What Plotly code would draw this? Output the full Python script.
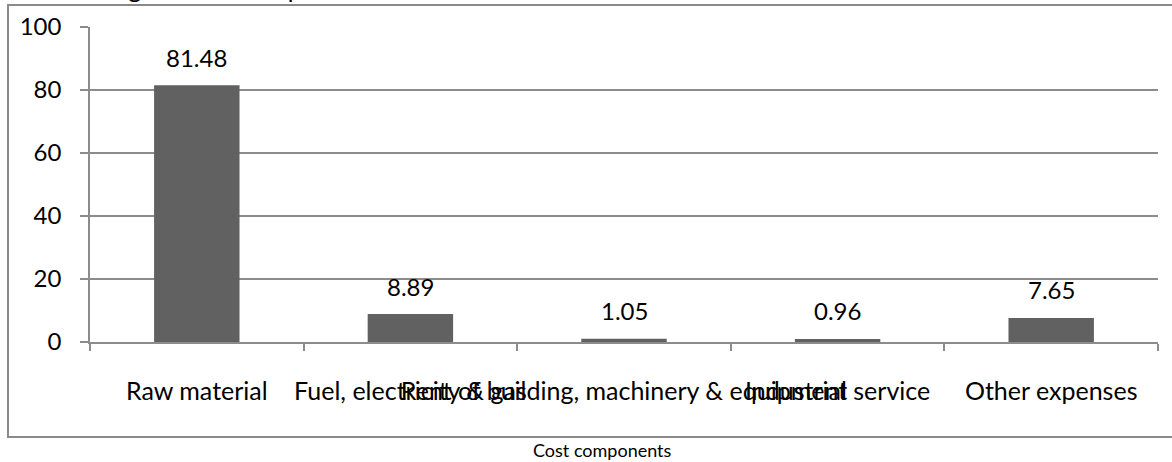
import plotly.graph_objects as go

categories = ["Raw material", "Fuel, electricity & gas", "Rent of building, machinery & equipment",
              "Industrial service", "Other expenses"]
values = [81.48, 8.89, 1.05, 0.96, 7.65]
y_ticks = [0, 20, 40, 60, 80, 100]

W, H = 1172, 462
L, R, T, B = 90, 14, 27, 120
pw, ph = W - L - R, H - T - B

def px_x(px):
    return (px - L) / pw

def px_y(py):
    return (H - B - py) / ph

FONT = "Lato, Open Sans, sans-serif"
GRID = "#8c8c8c"

fig = go.Figure()
fig.add_trace(go.Bar(
    x=categories, y=values, width=0.4,
    marker=dict(color="#616161", line=dict(width=0)),
    showlegend=False, hoverinfo="x+y",
))

for c, v in zip(categories, values):
    fig.add_annotation(x=c, y=v, text=f"{v:.2f}", showarrow=False,
                       yanchor="middle", yshift=28,
                       font=dict(family=FONT, size=24, color="#000"))

fig.add_annotation(xref="paper", yref="paper", x=px_x(602), y=px_y(450),
                   text="Cost components", showarrow=False,
                   xanchor="center", yanchor="middle",
                   font=dict(family=FONT, size=18, color="#000"))

fig.add_annotation(xref="paper", yref="paper", x=px_x(30), y=px_y(-12),
                   text="Percentage of cost components", showarrow=False,
                   xanchor="left", yanchor="middle",
                   font=dict(family=FONT, size=25, color="#000"))

# outer chart border
fig.add_shape(type="rect", xref="paper", yref="paper",
              x0=px_x(8), x1=px_x(1190), y0=px_y(437), y1=px_y(5),
              line=dict(color="#8a8a8a", width=2), layer="below")

fig.update_layout(
    width=W, height=H,
    margin=dict(l=L, r=R, t=T, b=B, autoexpand=False),
    paper_bgcolor="white", plot_bgcolor="white",
    bargap=0.6,
    font=dict(family=FONT, size=24, color="#000"),
    xaxis=dict(
        type="category", tickson="boundaries", ticks="outside", ticklen=7,
        tickcolor=GRID, tickwidth=1.5, showline=True, linecolor=GRID, linewidth=1.5,
        showgrid=False, tickangle=0, ticklabelstandoff=26,
        tickfont=dict(family=FONT, size=25, color="#000"),
        range=[-0.5, 4.5], fixedrange=True,
    ),
    yaxis=dict(
        range=[0, 100], tickvals=y_ticks, ticks="outside", ticklen=8,
        tickcolor=GRID, tickwidth=1.5, showline=True, linecolor=GRID, linewidth=1.5,
        showgrid=True, gridcolor=GRID, gridwidth=1.5, zeroline=False,
        ticklabelstandoff=14,
        tickfont=dict(family=FONT, size=24, color="#000"),
        fixedrange=True,
    ),
)

fig.write_html("out.html")
